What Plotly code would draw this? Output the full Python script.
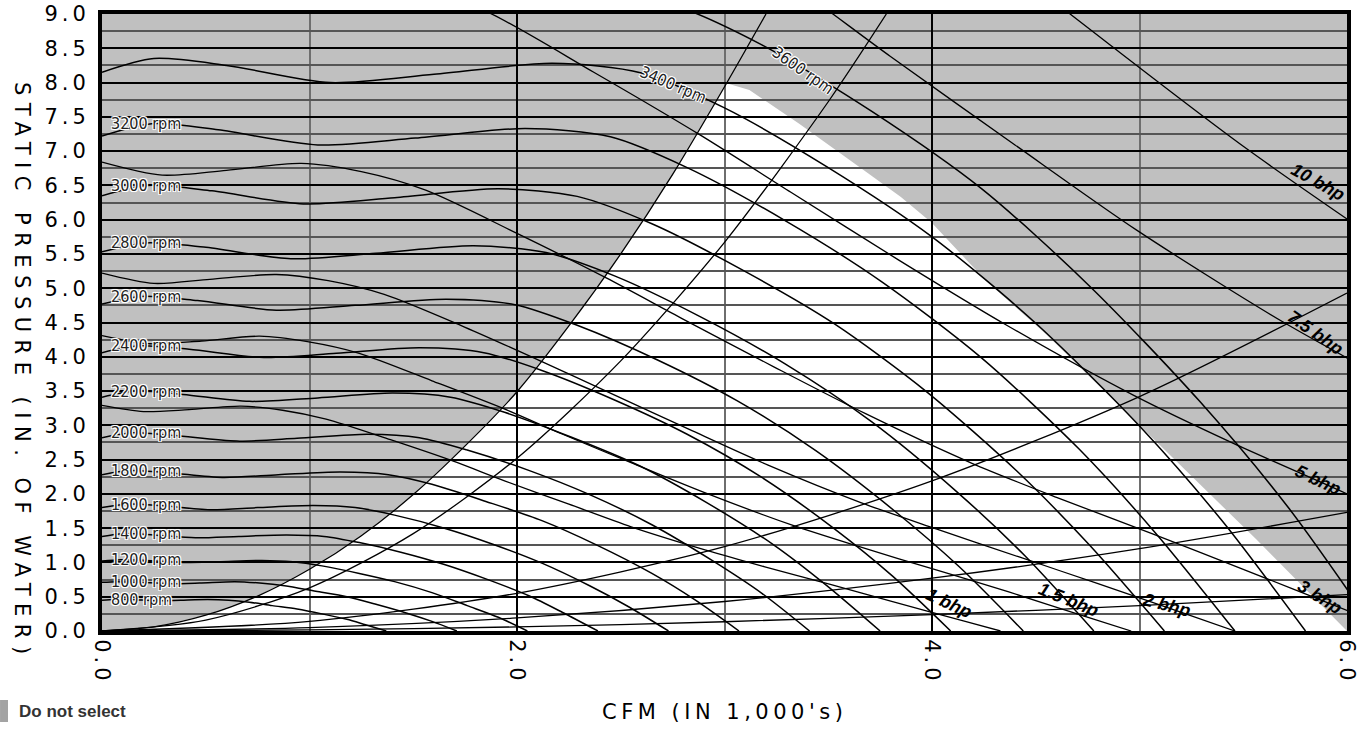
import plotly.graph_objects as go

# ---------------- fan speed curves: CFM (1000s) and static pressure (in. water)
RPM_VALUES = [800, 1000, 1200, 1400, 1600, 1800, 2000, 2200, 2400, 2600, 2800, 3000, 3200, 3400, 3600]

CFM_800 = [0, 0.06, 0.14, 0.26, 0.38, 0.51, 0.61, 0.71, 0.82, 0.94, 1.06, 1.18, 1.27, 1.37]
SP_800 = [0.45, 0.46, 0.46, 0.44, 0.45, 0.46, 0.45, 0.42, 0.37, 0.32, 0.25, 0.17, 0.09, 0.0]
CFM_1000 = [0, 0.07, 0.18, 0.32, 0.47, 0.64, 0.76, 0.88, 1.03, 1.18, 1.32, 1.47, 1.59, 1.71]
SP_1000 = [0.71, 0.72, 0.71, 0.69, 0.70, 0.72, 0.70, 0.66, 0.58, 0.50, 0.39, 0.26, 0.14, 0.0]
CFM_1200 = [0, 0.09, 0.21, 0.39, 0.56, 0.77, 0.92, 1.06, 1.24, 1.41, 1.59, 1.76, 1.91, 2.05]
SP_1200 = [1.02, 1.04, 1.03, 1.00, 1.01, 1.03, 1.01, 0.95, 0.84, 0.72, 0.56, 0.37, 0.20, 0.0]
CFM_1400 = [0, 0.10, 0.25, 0.45, 0.66, 0.89, 1.07, 1.24, 1.44, 1.65, 1.85, 2.06, 2.22, 2.39]
SP_1400 = [1.38, 1.42, 1.40, 1.36, 1.38, 1.40, 1.38, 1.29, 1.15, 0.97, 0.76, 0.51, 0.27, 0.0]
CFM_1600 = [0, 0.12, 0.28, 0.52, 0.75, 1.02, 1.22, 1.41, 1.65, 1.88, 2.12, 2.35, 2.54, 2.73]
SP_1600 = [1.80, 1.85, 1.83, 1.77, 1.80, 1.83, 1.80, 1.69, 1.50, 1.27, 0.99, 0.66, 0.35, 0.0]
CFM_1800 = [0, 0.13, 0.32, 0.58, 0.85, 1.15, 1.38, 1.59, 1.85, 2.12, 2.38, 2.65, 2.86, 3.07]
SP_1800 = [2.28, 2.34, 2.31, 2.24, 2.28, 2.32, 2.28, 2.14, 1.89, 1.61, 1.26, 0.84, 0.45, 0.0]
CFM_2000 = [0, 0.15, 0.35, 0.65, 0.94, 1.28, 1.53, 1.76, 2.06, 2.35, 2.65, 2.94, 3.18, 3.41]
SP_2000 = [2.82, 2.89, 2.85, 2.77, 2.81, 2.87, 2.82, 2.64, 2.34, 1.99, 1.55, 1.03, 0.55, 0.0]
CFM_2200 = [0, 0.16, 0.39, 0.71, 1.04, 1.40, 1.68, 1.94, 2.26, 2.59, 2.91, 3.24, 3.49, 3.75]
SP_2200 = [3.41, 3.50, 3.45, 3.35, 3.40, 3.47, 3.41, 3.19, 2.83, 2.41, 1.88, 1.25, 0.67, 0.0]
CFM_2400 = [0, 0.18, 0.42, 0.78, 1.13, 1.53, 1.84, 2.12, 2.47, 2.82, 3.18, 3.53, 3.81, 4.09]
SP_2400 = [4.06, 4.16, 4.11, 3.99, 4.05, 4.13, 4.06, 3.80, 3.37, 2.87, 2.24, 1.49, 0.80, 0.0]
CFM_2600 = [0, 0.19, 0.46, 0.84, 1.22, 1.66, 1.99, 2.29, 2.68, 3.06, 3.44, 3.82, 4.13, 4.44]
SP_2600 = [4.77, 4.88, 4.82, 4.68, 4.75, 4.84, 4.76, 4.46, 3.95, 3.36, 2.63, 1.75, 0.94, 0.0]
CFM_2800 = [0, 0.21, 0.49, 0.91, 1.32, 1.79, 2.14, 2.47, 2.88, 3.29, 3.71, 4.12, 4.45, 4.78]
SP_2800 = [5.53, 5.66, 5.60, 5.43, 5.51, 5.62, 5.52, 5.18, 4.59, 3.90, 3.05, 2.03, 1.09, 0.0]
CFM_3000 = [0, 0.22, 0.53, 0.97, 1.41, 1.91, 2.29, 2.65, 3.09, 3.53, 3.97, 4.41, 4.76, 5.12]
SP_3000 = [6.35, 6.50, 6.42, 6.23, 6.32, 6.45, 6.34, 5.94, 5.26, 4.48, 3.50, 2.33, 1.25, 0.0]
CFM_3200 = [0, 0.24, 0.56, 1.04, 1.51, 2.04, 2.45, 2.82, 3.29, 3.76, 4.24, 4.71, 5.08, 5.46]
SP_3200 = [7.22, 7.40, 7.31, 7.09, 7.19, 7.33, 7.21, 6.76, 5.99, 5.09, 3.98, 2.65, 1.42, 0.0]
CFM_3400 = [0, 0.25, 0.60, 1.10, 1.60, 2.17, 2.60, 3.00, 3.50, 4.00, 4.50, 5.00, 5.40, 5.80]
SP_3400 = [8.15, 8.35, 8.25, 8.00, 8.12, 8.28, 8.14, 7.63, 6.76, 5.75, 4.49, 2.99, 1.60, 0.0]
CFM_3600 = [0, 0.26, 0.64, 1.16, 1.69, 2.30, 2.75, 3.18, 3.71, 4.24, 4.76, 5.29, 5.72, 6.14]
SP_3600 = [9.20, 9.40, 9.30, 9.12, 9.20, 9.30, 9.13, 8.55, 7.58, 6.45, 5.03, 3.35, 1.79, 0.0]

# ---------------- brake horsepower curves
BHP_VALUES = ["1", "1.5", "2", "3", "5", "7.5", "10"]
CFM_1BHP = [0, 0.20, 0.42, 0.67, 0.87, 1.08, 1.39, 1.69, 1.94, 2.25, 2.55, 2.91, 3.19, 3.51, 3.81, 4.16, 4.33]
SP_1BHP = [3.29, 3.20, 3.23, 3.28, 3.22, 3.09, 2.79, 2.48, 2.19, 1.85, 1.52, 1.18, 0.94, 0.68, 0.43, 0.14, 0.0]
CFM_15BHP = [0, 0.23, 0.48, 0.76, 0.99, 1.24, 1.59, 1.93, 2.22, 2.57, 2.92, 3.33, 3.65, 4.02, 4.37, 4.76, 4.96]
SP_15BHP = [4.31, 4.19, 4.23, 4.30, 4.22, 4.05, 3.65, 3.25, 2.87, 2.43, 2.00, 1.54, 1.23, 0.89, 0.57, 0.19, 0.0]
CFM_2BHP = [0, 0.25, 0.52, 0.84, 1.09, 1.36, 1.75, 2.12, 2.45, 2.83, 3.21, 3.66, 4.02, 4.42, 4.80, 5.24, 5.46]
SP_2BHP = [5.22, 5.07, 5.13, 5.20, 5.11, 4.91, 4.43, 3.93, 3.47, 2.94, 2.42, 1.87, 1.49, 1.08, 0.69, 0.23, 0.0]
CFM_3BHP = [0, 0.29, 0.60, 0.96, 1.25, 1.56, 2.00, 2.43, 2.80, 3.24, 3.68, 4.19, 4.60, 5.06, 5.50, 6.00, 6.25]
SP_3BHP = [6.84, 6.65, 6.72, 6.82, 6.70, 6.43, 5.80, 5.15, 4.55, 3.85, 3.17, 2.45, 1.95, 1.42, 0.90, 0.30, 0.0]
CFM_5BHP = [0, 0.34, 0.71, 1.14, 1.48, 1.85, 2.37, 2.88, 3.32, 3.84, 4.36, 4.97, 5.45, 6.00, 6.52]
SP_5BHP = [9.62, 9.35, 9.45, 9.59, 9.42, 9.04, 8.15, 7.24, 6.40, 5.41, 4.46, 3.44, 2.74, 2.00, 1.27]
CFM_75BHP = [2.12, 2.71, 3.30, 3.80, 4.40, 4.99, 5.69, 6.24]
SP_75BHP = [11.84, 10.68, 9.49, 8.38, 7.09, 5.84, 4.51, 3.59]
CFM_10BHP = [3.63, 4.18, 4.84, 5.50, 6.26]
SP_10BHP = [11.49, 10.15, 8.59, 7.07, 5.47]

# ---------------- system resistance curves (through the origin)
SYS_A_CFM = [0, 0.25, 0.5, 0.75, 1.0, 1.25, 1.5, 1.75, 2.0, 2.25, 2.5, 2.75, 3.01, 3.2]
SYS_A_SP = [0, 0.06, 0.23, 0.51, 0.90, 1.39, 1.99, 2.70, 3.49, 4.45, 5.50, 6.66, 7.99, 9.0]
SYS_B_CFM = [0, 0.5, 1.0, 1.5, 2.0, 2.5, 3.0, 3.5, 3.78]
SYS_B_SP = [0, 0.16, 0.63, 1.42, 2.52, 3.94, 5.67, 7.72, 9.0]
SYS_C_CFM = [0, 1, 2, 3, 4, 5, 6]
SYS_C_SP = [0, 0.14, 0.55, 1.23, 2.19, 3.42, 4.93]
SYS_D_CFM = [0, 1, 2, 3, 4, 5, 6]
SYS_D_SP = [0, 0.05, 0.19, 0.43, 0.77, 1.20, 1.73]
SYS_E_CFM = [0, 1, 2, 3, 4, 5, 6]
SYS_E_SP = [0, 0.015, 0.06, 0.135, 0.24, 0.37, 0.53]

# ---------------- selectable region upper-right edge
EDGE_CFM = [3.01, 3.12, 3.36, 3.69, 3.85, 4.00, 4.26, 4.55, 5.00, 5.565, 6.0]
EDGE_SP = [7.99, 7.89, 7.40, 6.68, 6.33, 5.95, 5.11, 4.33, 3.00, 1.33, 0.0]

X_TICKS = [0.0, 2.0, 4.0, 6.0]
Y_TICKS = [0.0, 0.5, 1.0, 1.5, 2.0, 2.5, 3.0, 3.5, 4.0, 4.5, 5.0, 5.5, 6.0, 6.5, 7.0, 7.5, 8.0, 8.5, 9.0]

RPM_CURVES = [
    (800, CFM_800, SP_800), (1000, CFM_1000, SP_1000), (1200, CFM_1200, SP_1200),
    (1400, CFM_1400, SP_1400), (1600, CFM_1600, SP_1600), (1800, CFM_1800, SP_1800),
    (2000, CFM_2000, SP_2000), (2200, CFM_2200, SP_2200), (2400, CFM_2400, SP_2400),
    (2600, CFM_2600, SP_2600), (2800, CFM_2800, SP_2800), (3000, CFM_3000, SP_3000),
    (3200, CFM_3200, SP_3200), (3400, CFM_3400, SP_3400), (3600, CFM_3600, SP_3600),
]
BHP_CURVES = [
    ("1", CFM_1BHP, SP_1BHP), ("1.5", CFM_15BHP, SP_15BHP), ("2", CFM_2BHP, SP_2BHP),
    ("3", CFM_3BHP, SP_3BHP), ("5", CFM_5BHP, SP_5BHP), ("7.5", CFM_75BHP, SP_75BHP),
    ("10", CFM_10BHP, SP_10BHP),
]
SYS_CURVES = [
    (SYS_A_CFM, SYS_A_SP), (SYS_B_CFM, SYS_B_SP), (SYS_C_CFM, SYS_C_SP),
    (SYS_D_CFM, SYS_D_SP), (SYS_E_CFM, SYS_E_SP),
]

AX_FONT = "DejaVu Sans, Verdana, sans-serif"
LBL_FONT = "Liberation Sans Narrow, DejaVu Sans Condensed, Liberation Sans, Arial, sans-serif"
HALO = "-1px -1px 0 #fff, 1px -1px 0 #fff, -1px 1px 0 #fff, 1px 1px 0 #fff, 0 0 2px #fff"


def spaced(t, ls):
    return f'<span style="letter-spacing:{ls}px">{t}</span>'


fig = go.Figure()

for cx, cy in SYS_CURVES:
    fig.add_trace(go.Scatter(x=cx, y=cy, mode="lines", hoverinfo="skip", showlegend=False,
                             line=dict(color="black", width=1.3, shape="spline", smoothing=0.8)))
for name, cx, cy in BHP_CURVES:
    fig.add_trace(go.Scatter(x=cx, y=cy, mode="lines", name=f"{name} bhp", showlegend=False,
                             line=dict(color="black", width=1.3, shape="spline", smoothing=0.8)))
for rpm, cx, cy in RPM_CURVES:
    fig.add_trace(go.Scatter(x=cx, y=cy, mode="lines", name=f"{rpm} rpm", showlegend=False,
                             line=dict(color="black", width=1.5, shape="spline", smoothing=0.8)))

# selectable (white) region, drawn beneath gridlines
left_pts = [(x, y) for x, y in zip(SYS_A_CFM, SYS_A_SP) if y <= EDGE_SP[0]]
right_pts = list(zip(EDGE_CFM, EDGE_SP))
pts = left_pts + right_pts[1:]
path = "M " + " L ".join(f"{x},{y}" for x, y in pts) + " Z"
fig.add_shape(type="path", path=path, xref="x", yref="y", fillcolor="white",
              line=dict(width=0), layer="below")

annotations = []
# left rpm labels
for rpm, cx, cy in RPM_CURVES:
    if rpm <= 3200:
        annotations.append(dict(x=0.035, y=cy[1], xref="x", yref="y", text=f"{rpm} rpm",
                                showarrow=False, xanchor="left", yanchor="middle",
                                font=dict(family=LBL_FONT, size=16, color="#222", shadow=HALO)))
# rotated rpm labels
for txt, x, y, ang in [("3400 rpm", 2.75, 7.97, 23), ("3600 rpm", 3.38, 8.18, 35)]:
    annotations.append(dict(x=x, y=y, xref="x", yref="y", text=txt, showarrow=False,
                            textangle=ang, font=dict(family=LBL_FONT, size=16, color="#222", shadow=HALO)))
# bhp labels
for txt, x, y, ang in [("10 bhp", 5.86, 6.55, 29), ("7.5 bhp", 5.85, 4.35, 35),
                       ("5 bhp", 5.86, 2.2, 25), ("3 bhp", 5.87, 0.5, 32),
                       ("2 bhp", 5.13, 0.38, 15), ("1.5 bhp", 4.66, 0.45, 22),
                       ("1 bhp", 4.08, 0.41, 25)]:
    annotations.append(dict(x=x, y=y, xref="x", yref="y", text=f"<b><i>{txt}</i></b>", showarrow=False,
                            textangle=ang, font=dict(family="Liberation Sans, Arial, sans-serif",
                                                      size=18, color="black")))
# axis titles
annotations.append(dict(x=0.5004, y=-0.131, xref="paper", yref="paper", showarrow=False,
                        text=spaced("CFM (IN 1,000's)", 4.5), xanchor="center", yanchor="middle",
                        font=dict(family=AX_FONT, size=21, color="black")))
annotations.append(dict(x=-0.0643, y=0.42, xref="paper", yref="paper", showarrow=False,
                        text=spaced("STATIC PRESSURE (IN. OF WATER)", 7.5), textangle=90,
                        xanchor="center", yanchor="middle",
                        font=dict(family=AX_FONT, size=21, color="black")))
# "Do not select" key
annotations.append(dict(x=-0.0683, y=-0.1297, xref="paper", yref="paper", showarrow=False,
                        text="<b>Do not select</b>", xanchor="left", yanchor="middle",
                        font=dict(family="Liberation Sans, Arial, sans-serif", size=17, color="#333")))
fig.add_shape(type="rect", xref="paper", yref="paper", x0=-0.0819, x1=-0.0755, y0=-0.1475, y1=-0.1118,
              fillcolor="#a3a3a3", line=dict(width=0))

fig.update_layout(
    width=1360, height=740,
    margin=dict(l=102, r=13, t=14, b=109, autoexpand=False),
    paper_bgcolor="white", plot_bgcolor="#c0c0c0",
    showlegend=False,
    annotations=annotations,
    xaxis=dict(range=[0, 6], tickmode="array", tickvals=X_TICKS, automargin=False,
               ticktext=[spaced(f"{v:.1f}", 4) for v in X_TICKS], tickangle=90,
               ticklabeloverflow="allow",
               showgrid=True, gridcolor="black", gridwidth=2,
               minor=dict(tickmode="linear", tick0=0, dtick=1, showgrid=True, gridcolor="#6e6e6e", gridwidth=2),
               showline=True, linecolor="black", linewidth=4, mirror=True, zeroline=False, ticks="",
               tickfont=dict(family=AX_FONT, size=21, color="black")),
    yaxis=dict(range=[0, 9], tickmode="array", tickvals=Y_TICKS, automargin=False,
               ticktext=[spaced(f"{v:.1f}", 4) for v in Y_TICKS], ticklabelstandoff=4,
               ticklabeloverflow="allow",
               showgrid=True, gridcolor="black", gridwidth=1.6,
               minor=dict(tickmode="linear", tick0=0, dtick=0.25, showgrid=True, gridcolor="#555", gridwidth=1.6),
               showline=True, linecolor="black", linewidth=4, mirror=True, zeroline=False, ticks="",
               tickfont=dict(family=AX_FONT, size=21, color="black")),
)

# remove the default page margin so the 1360x740 figure fills the window exactly
fig.write_html("out.html", config={"displayModeBar": False},
               post_script="document.body.style.margin='0px';document.body.style.overflow='hidden';")
